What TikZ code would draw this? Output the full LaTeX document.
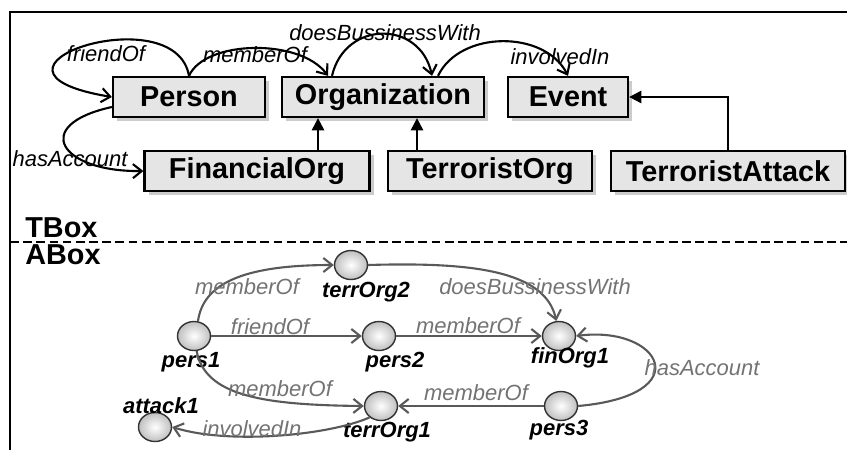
\documentclass[tikz,border=0pt]{standalone}
\usepackage{fontspec}
\setmainfont{Liberation Sans}
\usetikzlibrary{arrows.meta,shapes.geometric,shadows,calc}

\begin{document}
\begin{tikzpicture}[x=0.02cm, y=-0.02cm,
        every node/.style={inner sep=0pt},
        cls/.style={draw, line width=1.3pt, fill=black!10, minimum height=0.8cm,
            font=\fontsize{16.4}{18}\selectfont\bfseries,
            drop shadow={shadow xshift=2.5pt, shadow yshift=-2.5pt, opacity=0.4}},
        ind/.style={ellipse, draw=black!80, line width=0.8pt, inner color=white,
            outer color=black!25, minimum width=0.66cm, minimum height=0.58cm},
        indname/.style={anchor=base, font=\fontsize{12.5}{14}\selectfont\bfseries\itshape},
        boxname/.style={anchor=base west, font=\fontsize{16.4}{18}\selectfont\bfseries},
        rel/.style={line width=1.2pt, -{Straight Barb[length=5pt,width=8pt]}},
        isa/.style={line width=1.2pt, -{Triangle[length=7pt,width=7pt]}},
        arel/.style={rel, draw=black!65},
        tlbl/.style={anchor=base, font=\fontsize{12.5}{14}\selectfont\itshape},
        albl/.style={tlbl, text=black!55}]
    \useasboundingbox (0,0) rectangle (847,450);

    % frame and split
    \draw[line width=1.3pt] (847,12) -| (10,450);
    \draw[line width=1.3pt, dash pattern=on 5pt off 2.5pt] (10,242) -- (847,242);
    \node[boxname] (tbox) at (25,237) {TBox};
    \node[boxname] (abox) at (25,264) {ABox};

    % TBox
    \node[cls, minimum width=3.04cm] (person) at (189,97) {Person};
    \node[cls, minimum width=4.04cm] (org) at (383,97) {Organization};
    \node[cls, minimum width=2.4cm] (event) at (568,97) {Event};
    \node[cls, minimum width=4.5cm] (finorg) at (257,171) {FinancialOrg};
    \node[cls, minimum width=4.08cm] (terrorg) at (490,171) {TerroristOrg};
    \node[cls, minimum width=4.68cm] (terrattack) at (728,171) {TerroristAttack};

    \coordinate (finup) at ($(finorg.north)+(61,0)$);
    \coordinate (terrup) at ($(terrorg.north)+(-73,0)$);
    \coordinate (orgl) at ($(org.north)+(-55,0)$);
    \coordinate (orgm) at ($(org.north)+(-51,0)$);
    \coordinate (orgr) at ($(org.north)+(49,0)$);
    \coordinate (orgrr) at ($(org.north)+(55,0)$);

    \draw[rel] (person.north) .. controls (175,-5) and (-50,70) .. (person.west);
    \draw[rel] (person.north) .. controls (205,40) and (300,38) .. (orgl);
    \draw[rel] (orgm) .. controls (345,20) and (420,20) .. (orgr);
    \draw[rel] (orgrr) .. controls (460,30) and (545,30) .. (event.north);
    \draw[rel] ($(person.west)+(0,10)$) .. controls (30,125) and (60,172) .. (finorg.west);
    \draw[isa] (finup) -- (finup |- org.south);
    \draw[isa] (terrup) -- (terrup |- org.south);
    \draw[isa] (terrattack.north) |- (event.east);

    \node[tlbl] (lfriend) at (106,61) {friendOf};
    \node[tlbl] (lmember) at (255,62) {memberOf};
    \node[tlbl] (lbusiness) at (385,40) {doesBussinessWith};
    \node[tlbl] (linvolved) at (560,64) {involvedIn};
    \node[tlbl] (laccount) at (70,166) {hasAccount};

    % ABox
    \node[ind] (terrorg2) at (351,265) {};
    \node[ind] (pers1) at (194,336) {};
    \node[ind] (pers2) at (379,336) {};
    \node[ind] (finorg1) at (559,336) {};
    \node[ind] (terrorg1) at (381,406) {};
    \node[ind] (attack1) at (155,427) {};
    \node[ind] (pers3) at (561,406) {};

    \node[indname] (nterrorg2) at (366,297) {terrOrg2};
    \node[indname] (npers1) at (191,367) {pers1};
    \node[indname] (npers2) at (395,367) {pers2};
    \node[indname] (nfinorg1) at (570,363) {finOrg1};
    \node[indname] (nterrorg1) at (387,437) {terrOrg1};
    \node[indname] (nattack1) at (161,413) {attack1};
    \node[indname] (npers3) at (559,435) {pers3};

    \draw[arel] (pers1.75) .. controls (203,285) and (240,265) .. (terrorg2.west);
    \draw[arel] (terrorg2.east) .. controls (470,262) and (545,270) .. (finorg1.100);
    \draw[arel] (pers1) -- (pers2);
    \draw[arel] (pers2) -- (finorg1);
    \draw[arel] (pers1.-80) .. controls (205,395) and (260,405) .. (terrorg1.west);
    \draw[arel] (pers3) -- (terrorg1);
    \draw[arel] (terrorg1.-135) .. controls (330,435) and (230,445) .. (attack1.east);
    \draw[arel] (pers3.east) .. controls (700,395) and (660,325) .. (finorg1.east);

    \node[albl] (amember2) at (247,294) {memberOf};
    \node[albl] (abusiness) at (535,294) {doesBussinessWith};
    \node[albl] (afriend) at (270,334) {friendOf};
    \node[albl] (amember3) at (468,333) {memberOf};
    \node[albl] (amember1) at (280,396) {memberOf};
    \node[albl] (amember4) at (476,400) {memberOf};
    \node[albl] (ainvolved) at (252,436) {involvedIn};
    \node[albl] (aaccount) at (702,375) {hasAccount};
\end{tikzpicture}
\end{document}
